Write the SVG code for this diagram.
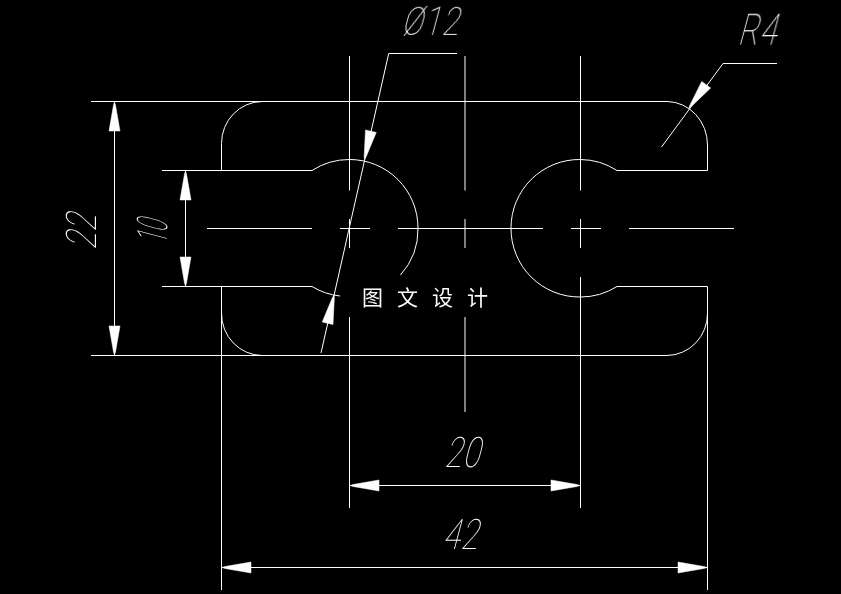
<svg xmlns="http://www.w3.org/2000/svg" width="841" height="594" viewBox="0 0 841 594">
<style>
.l{fill:none;stroke:#fff;stroke-width:1;}
.a{fill:#fff;stroke:#fff;stroke-width:.5;stroke-linejoin:round;}
.d{fill:#fff;font-family:"Roboto","Liberation Sans",sans-serif;font-weight:100;font-size:42px;letter-spacing:1.500px;}
.c{fill:#fff;font-family:"Noto Sans CJK SC",sans-serif;font-weight:400;font-size:21px;}
</style>
<defs>
<polygon id="ah" points="0,0 3,-1 29,-5.500 29,5.500 3,1"/>
</defs>
<rect width="841" height="594" fill="#000"/>
<g id="part" class="l">
<path d="M91 101.500H667A41 43.500 0 0 1 707.500 145V170.500H617A68.500 68.500 0 0 0 580.500 159.500A68.500 68.500 0 0 0 511 228A68.500 68.500 0 0 0 580.500 297A68.500 68.500 0 0 0 617 286.500H707.500V590"/>
<path d="M707.500 313A41 42 0 0 1 667 355.500H91"/>
<path d="M262 101.500A41 42 0 0 0 221.500 143.500V170.500"/>
<path d="M162 170.500H312A68.500 68.500 0 0 1 349.500 159.500A68.500 68.500 0 0 1 418 228A68.500 68.500 0 0 1 400.500 275"/>
<path d="M162 286.500H312A68.500 68.500 0 0 0 340 296"/>
<path d="M221.500 286.500V590"/>
<path d="M221.500 313A41 42 0 0 0 262 355.500"/>
</g>
<g id="centerlines" class="l">
<path d="M207 228.500H312M340 228.500H370M398 228.500H543M571 228.500H601M629 228.500H734"/>
<path d="M349.500 56V190.500M349.500 219V248M349.500 317V508"/>
<path d="M465 56V190.500M465 219V248M465 317V412"/>
<path d="M580.500 56V190.500M580.500 219V248M580.500 277V508"/>
</g>
<g id="connectors">
<g class="l">
<path d="M114.500 102V355"/>
<path d="M185.500 171V286"/>
<path d="M350 485.500H580"/>
<path d="M222 567.500H707"/>
<path d="M321 353L388.700 53.500H457"/>
<path d="M661.500 147L723 63.500H777"/>
</g>
<g class="a">
<use href="#ah" transform="translate(114.500 102) rotate(90)"/>
<use href="#ah" transform="translate(114.500 355) rotate(-90)"/>
<use href="#ah" transform="translate(185.500 171) rotate(90)"/>
<use href="#ah" transform="translate(185.500 286) rotate(-90)"/>
<use href="#ah" transform="translate(350 485.500)"/>
<use href="#ah" transform="translate(580 485.500) rotate(180)"/>
<use href="#ah" transform="translate(222 567.500)"/>
<use href="#ah" transform="translate(707 567.500) rotate(180)"/>
<use href="#ah" transform="translate(364.500 159.500) rotate(-77.300)"/>
<use href="#ah" transform="translate(334 295) rotate(102.700)"/>
<use href="#ah" transform="translate(689 108) rotate(-53.600)"/>
</g>
</g>
<g id="labels" opacity=".99">
<text class="d" transform="translate(444 467) skewX(-15) scale(.74 1)">20</text>
<text class="d" transform="translate(442 549) skewX(-15) scale(.74 1)">42</text>
<text class="d" transform="translate(737 45) skewX(-15) scale(.74 1)">R4</text>
<text class="d" transform="translate(401 35) skewX(-15) scale(.74 .92)">Ø12</text>
<text class="d" transform="translate(96 250) rotate(-90) skewX(-15) scale(.74 1)">22</text>
<text class="d" transform="translate(167 245) rotate(-90) skewX(-15) scale(.5 1)">10</text>
<text class="c" x="362" y="305" letter-spacing="14">图文设计</text>
</g>
</svg>
